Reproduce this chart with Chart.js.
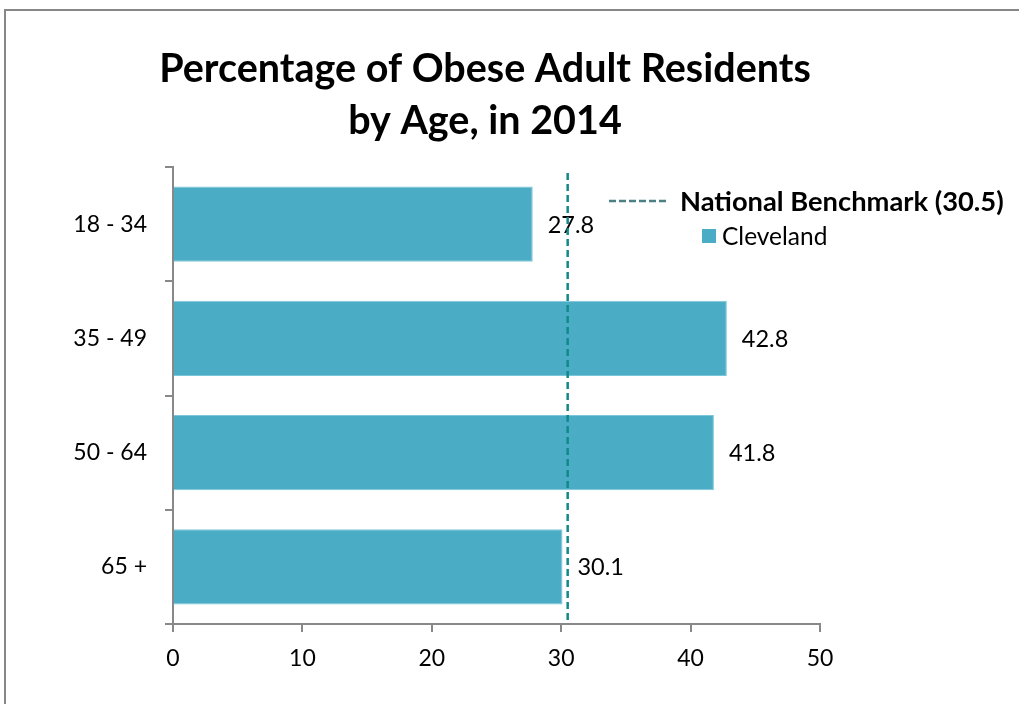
<!DOCTYPE html>
<html>
<head>
<meta charset="utf-8">
<style>
  html, body { margin: 0; padding: 0; background: #fff; }
  #wrap { width: 1019px; height: 704px; position: relative; }
</style>
<script src="https://cdn.jsdelivr.net/npm/chart.js@4.4.1/dist/chart.umd.min.js"></script>
</head>
<body>
<div id="wrap"><canvas id="c" width="1019" height="704"></canvas></div>
<script>
// Age groups and obesity rates (%)
const ageGroups = ['18 - 34', '35 - 49', '50 - 64', '65 +'];
const clevelandValues = [27.8, 42.8, 41.8, 30.1];
const benchmarkValue = 30.5;
const xTicks = [0, 10, 20, 30, 40, 50];
const titleLines = ['Percentage of Obese Adult Residents', 'by Age, in 2014'];
const seriesName = 'Cleveland';
const benchmarkName = 'National Benchmark (30.5)';

const FONT = 'Lato, "Open Sans", "Liberation Sans", sans-serif';
const BAR = '#4bacc6';
const TEAL = '#11898a';

// Outer frame, title, benchmark line, value labels and legend
const decor = {
  id: 'decor',
  beforeDraw(chart) {
    const ctx = chart.ctx;
    ctx.save();
    ctx.fillStyle = '#fff';
    ctx.fillRect(0, 0, chart.width, chart.height);
    ctx.strokeStyle = '#878787';
    ctx.lineWidth = 2;
    ctx.beginPath();
    ctx.moveTo(5, chart.height + 2);
    ctx.lineTo(5, 10);
    ctx.lineTo(chart.width + 2, 10);
    ctx.stroke();
    ctx.restore();
  },
  afterDraw(chart) {
    const ctx = chart.ctx;
    const xs = chart.scales.x;
    const area = chart.chartArea;
    ctx.save();

    // title
    ctx.fillStyle = '#000';
    ctx.font = 'bold 39.5px ' + FONT;
    ctx.textAlign = 'center';
    ctx.textBaseline = 'middle';
    ctx.fillText(titleLines[0], 485, 69);
    ctx.fillText(titleLines[1], 485, 121);

    // value labels at bar ends
    ctx.font = '23.5px ' + FONT;
    ctx.textAlign = 'left';
    const meta = chart.getDatasetMeta(0);
    meta.data.forEach((bar, i) => {
      ctx.fillText(clevelandValues[i].toFixed(1), bar.x + 15, bar.y + 1);
    });

    // benchmark line
    const bx = xs.getPixelForValue(benchmarkValue);
    ctx.strokeStyle = TEAL;
    ctx.lineWidth = 2.5;
    ctx.setLineDash([7, 4]);
    ctx.beginPath();
    ctx.moveTo(bx, area.top + 6);
    ctx.lineTo(bx, area.bottom);
    ctx.stroke();

    // legend
    ctx.strokeStyle = '#4d7f86';
    ctx.lineWidth = 2.5;
    ctx.setLineDash([7, 3]);
    ctx.beginPath();
    ctx.moveTo(609, 201);
    ctx.lineTo(669, 201);
    ctx.stroke();
    ctx.setLineDash([]);
    ctx.font = 'bold 27.3px ' + FONT;
    ctx.fillStyle = '#000';
    ctx.textBaseline = 'middle';
    ctx.fillText(benchmarkName, 680, 202);
    ctx.fillStyle = BAR;
    ctx.fillRect(702, 229, 14, 14);
    ctx.fillStyle = '#000';
    ctx.font = '24.5px ' + FONT;
    ctx.fillText(seriesName, 722, 237);

    ctx.restore();
  }
};

new Chart(document.getElementById('c'), {
  type: 'bar',
  data: {
    labels: ageGroups,
    datasets: [{
      label: seriesName,
      data: clevelandValues,
      backgroundColor: BAR,
      borderColor: '#7cc6da',
      borderWidth: 1,
      barPercentage: 0.66,
      categoryPercentage: 1.0
    }]
  },
  options: {
    indexAxis: 'y',
    responsive: false,
    animation: false,
    devicePixelRatio: 1,
    layout: { padding: { top: 167, right: 199, bottom: 0, left: 0 } },
    plugins: {
      legend: { display: false },
      title: { display: false },
      tooltip: { enabled: false }
    },
    scales: {
      x: {
        type: 'linear',
        min: 0,
        max: 50,
        afterBuildTicks(scale) {
          scale.ticks = xTicks.map(v => ({ value: v }));
        },
        afterFit(scale) { scale.height = 80; },
        grid: {
          drawOnChartArea: false,
          drawTicks: true,
          tickLength: 8,
          color: '#888',
          lineWidth: 2
        },
        border: { display: true, color: '#888', width: 2 },
        ticks: {
          padding: 13,
          color: '#000',
          font: { family: FONT, size: 23 }
        }
      },
      y: {
        afterFit(scale) { scale.width = 173; },
        grid: {
          drawOnChartArea: false,
          drawTicks: true,
          tickLength: 8,
          offset: true,
          color: '#888',
          lineWidth: 2
        },
        border: { display: true, color: '#888', width: 2 },
        ticks: {
          padding: 18,
          color: '#000',
          font: { family: FONT, size: 23 }
        }
      }
    }
  },
  plugins: [decor]
});
</script>
</body>
</html>
